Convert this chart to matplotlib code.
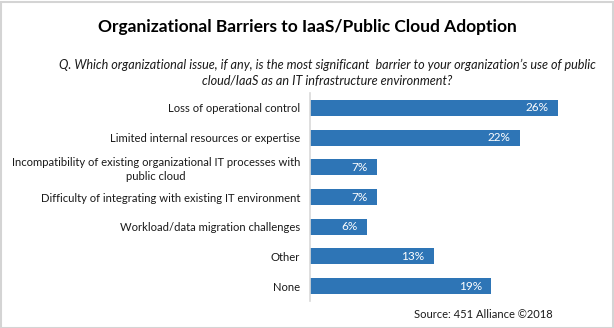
import matplotlib.pyplot as plt
from matplotlib.patches import Rectangle

plt.rcParams['font.family'] = ['Lato', 'DejaVu Sans']

categories = [
    'Loss of operational control',
    'Limited internal resources or expertise',
    'Incompatibility of existing organizational IT processes with\npublic cloud',
    'Difficulty of integrating with existing IT environment',
    'Workload/data migration challenges',
    'Other',
    'None',
]
values = [26, 22, 7, 7, 6, 13, 19]

bar_color = '#2E75B6'
W, H = 614, 328

fig = plt.figure(figsize=(W / 100, H / 100), dpi=100)
fig.patch.set_facecolor('white')

# plot area in pixel terms: x 310..600, y 93..301
ax = fig.add_axes([310 / W, 1 - 301 / H, 290 / W, 208 / H])
ypos = list(range(len(categories)))
ax.barh(ypos, values, height=0.54, color=bar_color)
ax.set_ylim(len(categories) - 0.5, -0.5)
ax.set_xlim(0, 290 / 9.55)

for y, v in zip(ypos, values):
    ax.annotate(f'{v}%', (v, y), xytext=(-7, 0), textcoords='offset points',
                ha='right', va='center', color='white', fontsize=8.5)

ax.set_yticks(ypos)
ax.set_yticklabels(categories, fontsize=8.1, color='#1a1a1a', ha='right',
                   multialignment='center', linespacing=1.25)
ax.tick_params(axis='y', length=0, pad=7)
ax.set_xticks([])
for side in ['top', 'right', 'bottom']:
    ax.spines[side].set_visible(False)
ax.spines['left'].set_color('#d9d9d9')
ax.spines['left'].set_linewidth(1.2)

fig.text(307 / W, 1 - 27 / H, 'Organizational Barriers to IaaS/Public Cloud Adoption',
         ha='center', va='center', fontsize=12.5, fontweight='bold', color='black')
fig.text(327 / W, 1 - 73 / H,
         'Q. Which organizational issue, if any, is the most significant  barrier to your organization\u2019s use of public\n'
         'cloud/IaaS as an IT infrastructure environment?',
         ha='center', va='center', fontsize=9.1, style='italic', color='#1a1a1a',
         linespacing=1.45)
fig.text(553 / W, 1 - 315 / H, 'Source: 451 Alliance \u00a92018',
         ha='right', va='center', fontsize=8, color='#1a1a1a')

# thin gray frame round the whole image
fig.add_artist(Rectangle((0.5 / W, 0.5 / H), 1 - 2 / W, 1 - 2 / H,
                         transform=fig.transFigure, fill=False,
                         edgecolor='#d4d4d4', linewidth=1.5))

fig.savefig('out.png', dpi=100)
